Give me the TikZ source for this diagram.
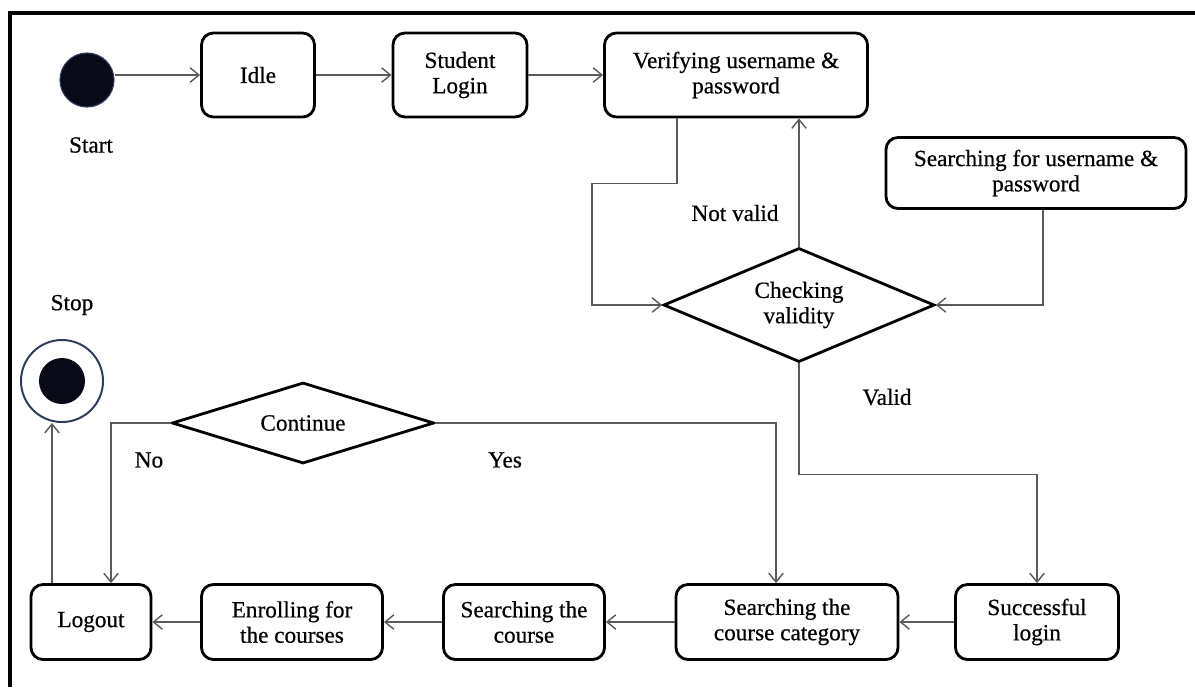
\documentclass[tikz,border=0pt]{standalone}
\usepackage{fontspec}
\setmainfont{Liberation Serif}[FakeBold=0.6]
\usepackage{tikz}
\usetikzlibrary{arrows.meta,shapes}
\usepackage{xcolor}
\definecolor{sdgray}{RGB}{90,90,90}
\definecolor{sdnavy}{RGB}{45,60,90}
\definecolor{sddark}{RGB}{8,10,24}
\tikzstyle{state} = [rectangle, rounded corners=0.3cm, minimum height=2.1cm, text centered, align=center, draw=black, line width=2pt, inner sep=2pt]
\tikzstyle{decision} = [diamond, aspect=2.4, inner sep=0pt, text centered, align=center, draw=black, line width=2pt]
\tikzstyle{arrow} = [line width=1pt, ->, >={Straight Barb[length=2.2mm,width=3.6mm]}, color=sdgray]
\tikzstyle{lbl} = [inner sep=1pt]

\begin{document}
\begin{tikzpicture}[x=0.025cm, y=-0.025cm, font=\fontsize{16.5}{18}\selectfont]
\useasboundingbox (0,0) rectangle (1195,687);
% Frame
\draw[line width=2.5pt] (1195,13) -- (10,13) -- (10,687);

% Login part
\node[circle, fill=sddark, draw=sdnavy, line width=0.8pt, minimum size=1.35cm, inner sep=0pt] (start) at (87,80) {};
\node[lbl] (startlbl) at (91,145) {Start};
\node[state, minimum width=2.825cm] (idle) at (258,75) {Idle};
\node[state, minimum width=3.35cm] (login) at (460,75) {Student\\Login};
\node[state, minimum width=6.575cm] (verify) at (736,75) {Verifying username \&\\password};
\node[state, minimum width=7.5cm, minimum height=1.775cm] (search) at (1036,173) {Searching for username \&\\password};
\node[decision, minimum width=6.775cm, minimum height=2.85cm] (check) at (799,305) {Checking\\validity};
\node[lbl] (notvalid) at (735,213) {Not valid};
\node[lbl] (valid) at (887,397) {Valid};

% Course part
\node[state, minimum width=4.075cm, minimum height=1.875cm] (success) at (1037,622) {Successful\\login};
\node[state, minimum width=5.55cm, minimum height=1.875cm] (category) at (787,622) {Searching the\\course category};
\node[state, minimum width=4.025cm, minimum height=1.875cm] (course) at (524,622) {Searching the\\course};
\node[state, minimum width=4.525cm, minimum height=1.875cm] (enrol) at (292,622) {Enrolling for\\the courses};
\node[state, minimum width=3cm, minimum height=1.875cm] (logout) at (91,622) {Logout};
\node[decision, minimum width=6.55cm, minimum height=2.025cm] (cont) at (303,423) {Continue};
\node[lbl] (no) at (149,460) {No};
\node[lbl] (yes) at (505,460) {Yes};

% Stop
\node[circle, draw=sdnavy, line width=1.4pt, minimum size=2.05cm, inner sep=0pt] (stop) at (62,381) {};
\node[circle, fill=sddark, minimum size=1.15cm, inner sep=0pt] (stopdot) at (62,381) {};
\node[lbl] (stoplbl) at (72,305) {Stop};

% Connections
\draw[arrow] (start.east |- idle) -- (idle);
\draw[arrow] (idle) -- (login);
\draw[arrow] (login) -- (verify);
\draw[arrow] ([xshift=-1.475cm]verify.south) -- ++(0,65) -| ([xshift=-1.75cm]check.west) -- (check.west);
\draw[arrow] (check.north) -- (check.north |- verify.south);
\draw[arrow] ([xshift=0.175cm]search.south) |- (check.east);
\draw[arrow] (check.south) -- ++(0,111) -| (success.north);
\draw[arrow] (success) -- (category);
\draw[arrow] (category) -- (course);
\draw[arrow] (course) -- (enrol);
\draw[arrow] (enrol) -- (logout);
\draw[arrow] (cont.east) -| ([xshift=-0.275cm]category.north);
\draw[arrow] (cont.west) -| ([xshift=0.5cm]logout.north);
\draw[arrow] ([xshift=-0.975cm]logout.north) -- ([xshift=-0.975cm]logout.north |- stop.south);
\end{tikzpicture}
\end{document}
